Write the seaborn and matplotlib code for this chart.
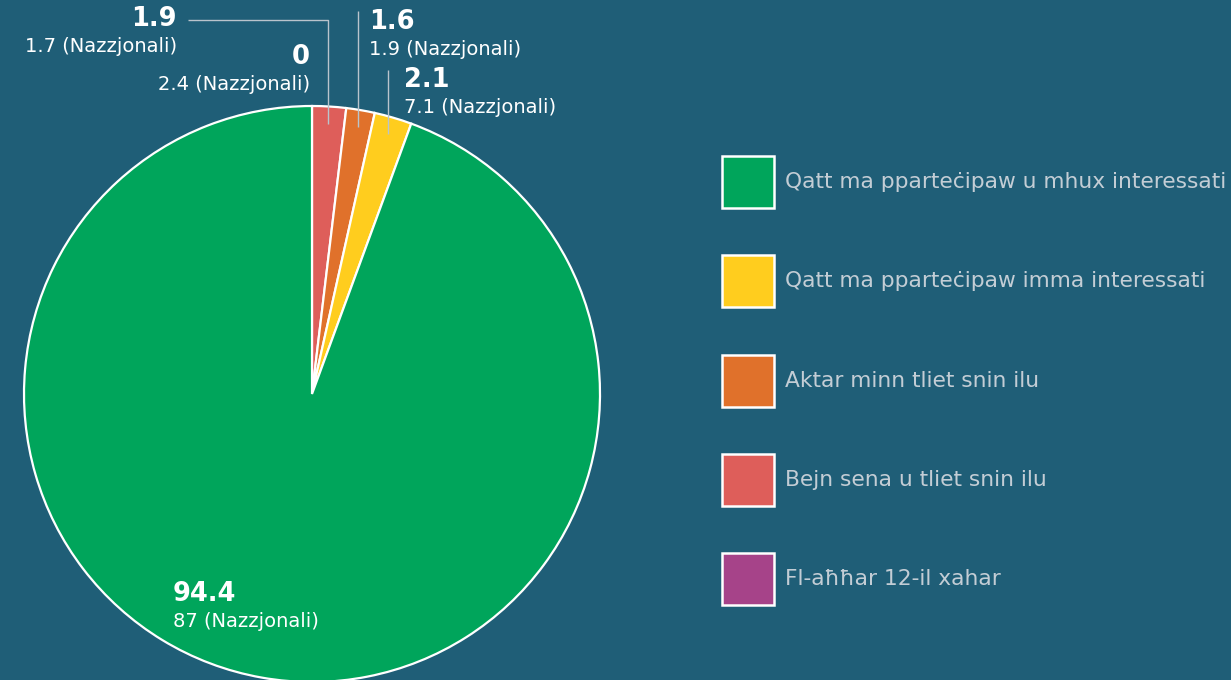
import numpy as np
import matplotlib
matplotlib.use("Agg")
import matplotlib.pyplot as plt
import matplotlib.patches as mpatches
import seaborn as sns

# --- data ---
categories = [
    "Qatt ma pparteċipaw u mhux interessati",
    "Qatt ma pparteċipaw imma interessati",
    "Aktar minn tliet snin ilu",
    "Bejn sena u tliet snin ilu",
    "Fl-aħħar 12-il xahar",
]
values = [94.4, 2.1, 1.6, 1.9, 0]
national = [87, 7.1, 1.9, 1.7, 2.4]
colors = ["#00A55B", "#FFCD1E", "#E0712B", "#DE5E5A", "#A64389"]

BG = "#1F5E77"
LEGEND_TXT = "#C3CDD5"

sns.set_theme(style="white")
plt.rcParams["font.family"] = ["DejaVu Sans"]

W, H = 1231, 680
fig = plt.figure(figsize=(W / 100, H / 100), dpi=100)
fig.patch.set_facecolor(BG)
ax = fig.add_axes([0, 0, 1, 1])
ax.set_facecolor(BG)

cx, cy, R = 312, H - 394, 288

# pie drawn clockwise from 12 o'clock: purple, red, orange, yellow, green
order = list(range(len(values)))[::-1]
wedges, _ = ax.pie([values[i] for i in order], colors=[colors[i] for i in order],
                   startangle=90, counterclock=False, center=(cx, cy), radius=R,
                   wedgeprops=dict(edgecolor="white", linewidth=1.6), frame=True)
ax.set_xlim(0, W)
ax.set_ylim(0, H)
ax.axis("off")

# label layout (pixel coords from top) per category: (x, y_bold, ha, leader)
label_pos = {
    0: (173, 594, "left", None),
    1: (404, 80, "left", [(389, 70)]),
    2: (369, 22, "left", [(354, 11)]),
    3: (177, 19, "right", [(188, 20), (327, 20)]),
    4: (310, 57, "right", None),
}

line_col = "#B9C4CC"
for i, w in zip(order, wedges):
    x, yb, ha, leader = label_pos[i]
    ax.text(x, H - yb, f"{values[i]:g}", ha=ha, va="center", color="white",
            fontsize=18.5, fontweight="bold")
    ax.text(x, H - yb - 27.5, f"{national[i]:g} (Nazzjonali)", ha=ha, va="center",
            color="white", fontsize=14)
    if leader:
        # leader ends inside the wedge, at its mid angle
        mid = np.deg2rad((w.theta1 + w.theta2) / 2)
        ex = cx + 0.94 * R * np.cos(mid)
        ey = cy + 0.94 * R * np.sin(mid)
        pts = [(px, H - py) for px, py in leader]
        xs = [p[0] for p in pts] + [ex]
        ys = [p[1] for p in pts] + [ey]
        if len(pts) == 1:
            xs[0] = ex
        else:
            xs[-2] = ex
        ax.plot(xs, ys, color=line_col, linewidth=1.0, solid_capstyle="butt")

# legend
fs = 15.7
handles = [mpatches.Patch(facecolor=c, edgecolor="white", linewidth=1.8) for c in colors]
leg = ax.legend(handles, categories, loc="upper left", bbox_to_anchor=(722 / W, 1 - 156 / H),
                frameon=False, fontsize=fs, handlelength=2.38, handleheight=3.29,
                labelspacing=2.17, handletextpad=0.52, borderpad=0, borderaxespad=0)
for t in leg.get_texts():
    t.set_color(LEGEND_TXT)

fig.savefig("out.png", dpi=100, facecolor=BG)
